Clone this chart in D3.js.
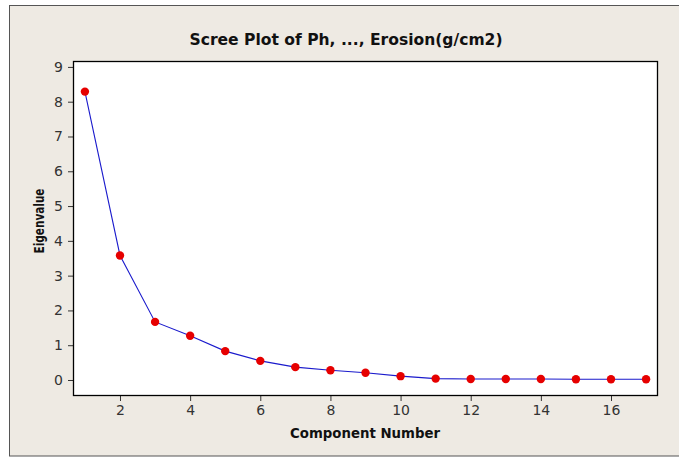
<!DOCTYPE html>
<html>
<head>
<meta charset="utf-8">
<script src="https://cdn.jsdelivr.net/npm/d3@7"></script>
<style>
  body { margin: 0; background: #fff; }
  svg { display: block; }
  .tick line { stroke: #333; }
</style>
</head>
<body>
<svg id="chart" width="679" height="459"></svg>
<script>
// eigenvalues
var components = d3.range(1, 18);
var eigenvalues = [8.29, 3.58, 1.67, 1.27, 0.83, 0.55, 0.37, 0.28, 0.21, 0.11,
                   0.04, 0.03, 0.03, 0.03, 0.02, 0.02, 0.02];
var xTicks = [2, 4, 6, 8, 10, 12, 14, 16];
var yTicks = [0, 1, 2, 3, 4, 5, 6, 7, 8, 9];

var titleText = 'Scree Plot of Ph, ..., Erosion(g/cm2)';
var xLabel = 'Component Number';
var yLabel = 'Eigenvalue';

var font = 'Tahoma, "DejaVu Sans", sans-serif';
var svg = d3.select('#chart');

var plot = {left: 73, right: 658, top: 61, bottom: 396};

// graph frame
svg.append('rect')
	.attr('x', 9.5).attr('y', 5.5)
	.attr('width', 680).attr('height', 450.5)
	.attr('fill', '#eeeae3')
	.attr('stroke', '#555');

var x = d3.scaleLinear().domain([0.66, 17.34]).range([plot.left, plot.right]);
var y = d3.scaleLinear().domain([-0.46, 9.17]).range([plot.bottom, plot.top]);

svg.append('rect')
	.attr('x', plot.left).attr('y', plot.top)
	.attr('width', plot.right - plot.left).attr('height', plot.bottom - plot.top)
	.attr('fill', '#fff');

function styleTicks(g){
	g.select('.domain').remove();
	g.selectAll('.tick text')
		.attr('font-family', font)
		.attr('font-size', 14)
		.attr('fill', '#333');
}

svg.append('g')
	.attr('transform', 'translate(0,' + plot.bottom + ')')
	.call(d3.axisBottom(x).tickValues(xTicks).tickSize(5).tickPadding(4))
	.call(styleTicks);

svg.append('g')
	.attr('transform', 'translate(' + plot.left + ',0)')
	.call(d3.axisLeft(y).tickValues(yTicks).tickSize(5).tickPadding(5))
	.call(styleTicks);

svg.append('rect')
	.attr('x', plot.left + 0.5).attr('y', plot.top + 0.5)
	.attr('width', plot.right - plot.left - 1).attr('height', plot.bottom - plot.top - 1)
	.attr('fill', 'none')
	.attr('stroke', '#000')
	.attr('stroke-width', 1.3);

var line = d3.line()
	.x(function(d, i){ return x(components[i]); })
	.y(function(d){ return y(d); });

svg.append('path')
	.datum(eigenvalues)
	.attr('d', line)
	.attr('fill', 'none')
	.attr('stroke', '#1a1acc')
	.attr('stroke-width', 1.1);

svg.append('g').selectAll('circle')
	.data(eigenvalues)
	.enter().append('circle')
		.attr('cx', function(d, i){ return x(components[i]); })
		.attr('cy', function(d){ return y(d); })
		.attr('r', 4.2)
		.attr('fill', '#e60000');

svg.append('text')
	.attr('x', 346).attr('y', 45)
	.attr('text-anchor', 'middle')
	.attr('font-family', font)
	.attr('font-weight', 'bold')
	.attr('font-size', 16)
	.attr('fill', '#111')
	.attr('textLength', 313)
	.attr('lengthAdjust', 'spacingAndGlyphs')
	.text(titleText);

svg.append('text')
	.attr('x', 365).attr('y', 438)
	.attr('text-anchor', 'middle')
	.attr('font-family', font)
	.attr('font-weight', 'bold')
	.attr('font-size', 14)
	.attr('fill', '#111')
	.attr('textLength', 150)
	.attr('lengthAdjust', 'spacingAndGlyphs')
	.text(xLabel);

svg.append('text')
	.attr('transform', 'translate(44,221) rotate(-90)')
	.attr('text-anchor', 'middle')
	.attr('font-family', font)
	.attr('font-weight', 'bold')
	.attr('font-size', 14)
	.attr('fill', '#111')
	.attr('textLength', 65)
	.attr('lengthAdjust', 'spacingAndGlyphs')
	.text(yLabel);
</script>
</body>
</html>
